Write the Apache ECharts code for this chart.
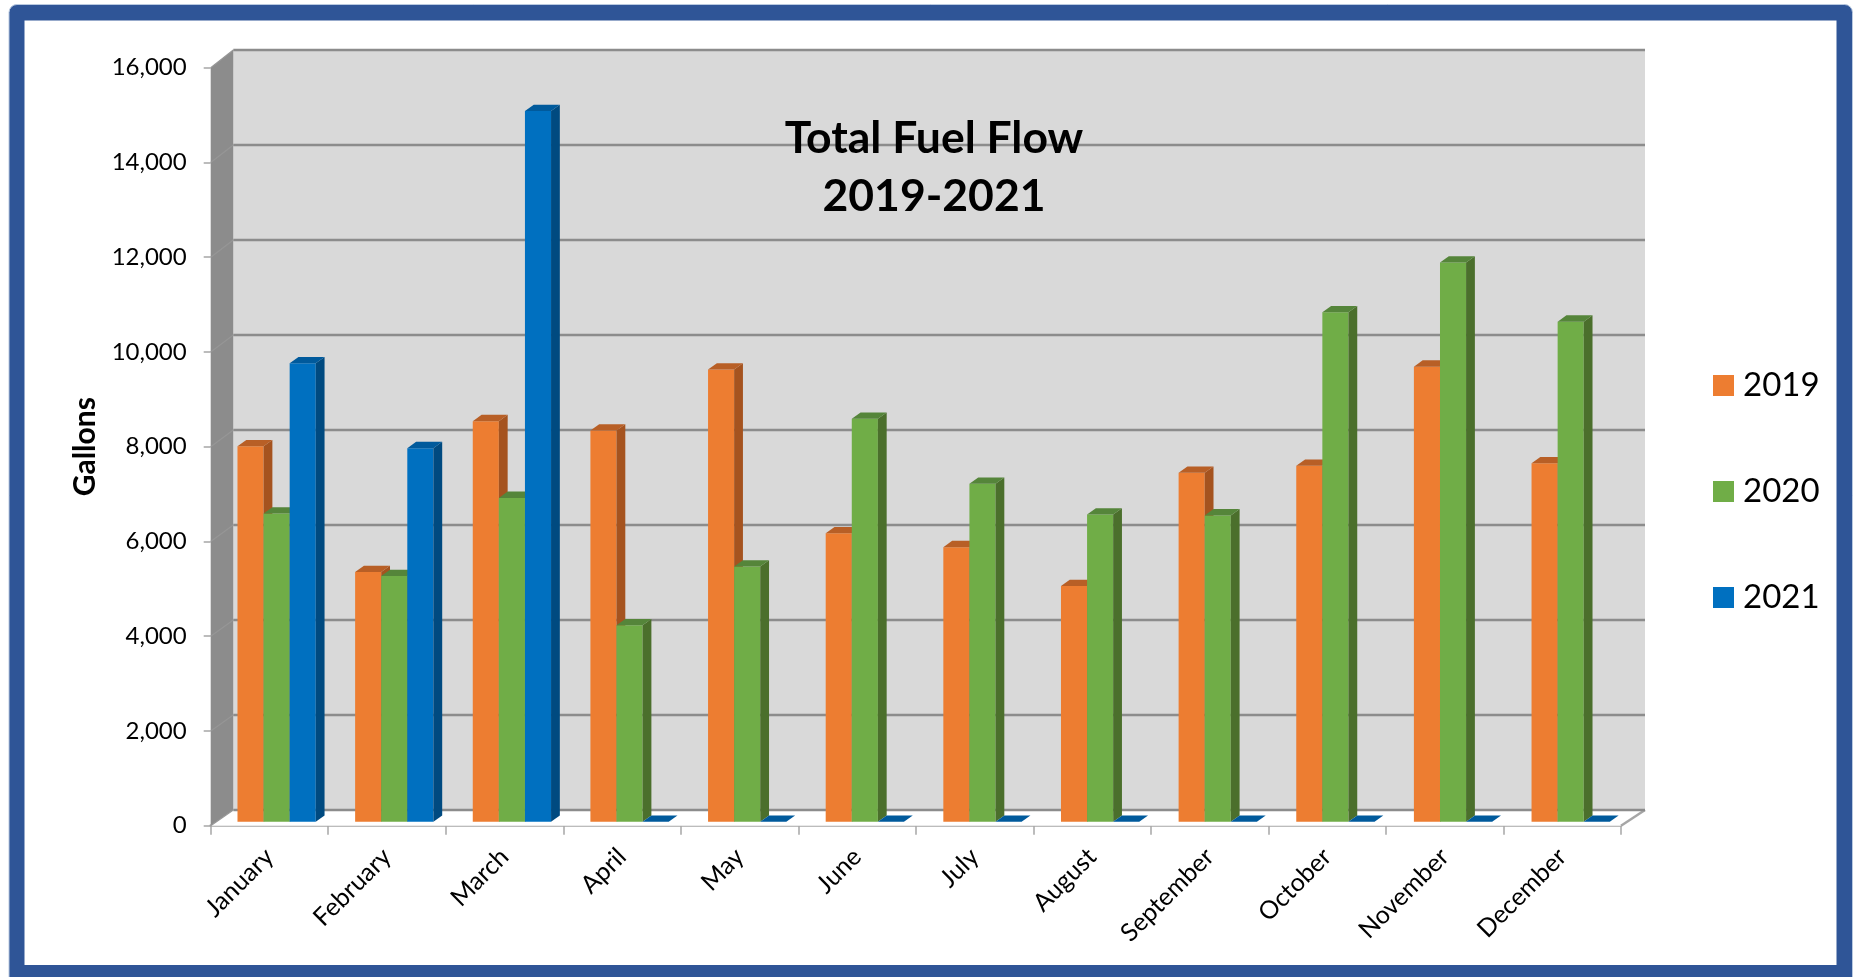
<!DOCTYPE html>
<html><head><meta charset="utf-8">
<style>html,body{margin:0;padding:0;background:#fff}#c{width:1854px;height:977px}</style>
<script src="https://cdn.jsdelivr.net/npm/echarts@6/dist/echarts.min.js"></script>
</head><body><div id="c"></div>
<script>
const months=['January','February','March','April','May','June','July','August','September','October','November','December'];
const v2019=[7925,5270,8455,8255,9545,6090,5795,4975,7365,7515,9605,7565];
const v2020=[6505,5185,6835,4145,5385,8505,7135,6485,6465,10755,11805,10555];
const v2021=[9675,7885,15000,0,0,0,0,0,0,0,0,0];
const yTicks=[0,2000,4000,6000,8000,10000,12000,14000,16000];
const GRID={left:210.7,top:67.7,right:233,bottom:151.3};
const DXL=22.6,DXR=24,DYT=17.7,DYB=15.7,BAR=0.222,BDX=8.8,BDY=6.3,SXL=7.1,SXR=8.5,SY=-4;
const FONT='Lato, "Open Sans", sans-serif';
const palette=[
 {f:'#ed7d31',t:'#b85f26',s:'#a5531f'},
 {f:'#70ad47',t:'#55853a',s:'#4b6f2c'},
 {f:'#0070c0',t:'#005a9c',s:'#004a80'}];
function poly(pts,fill){return {type:'polygon',shape:{points:pts},style:{fill:fill,stroke:null},silent:true};}
function backY(y,T,B){return y-(DYB+(DYT-DYB)*(B-y)/(B-T));}
function barSeries(name,data,idx){
 return {name,type:'custom',coordinateSystem:'cartesian2d',z:5+idx,
  itemStyle:{color:palette[idx].f},
  data:data.map((v,i)=>[i,v]),encode:{x:0,y:1},
  renderItem(params,api){
   const g=params.coordSys,band=api.size([1,0])[0],w=band*BAR;
   const p=api.coord([api.value(0),api.value(1)]),b=api.coord([api.value(0),0]);
   const sx=SXL+(SXR-SXL)*(p[0]-g.x)/g.width;
   const x=p[0]+(idx-1.5)*w+sx,r=x+w,top=p[1]+SY,bot=b[1]+SY;
   const c=palette[idx],kids=[];
   if(bot-top>0.5){
    kids.push(poly([[x,top],[r,top],[r,bot],[x,bot]],c.f));
    kids.push(poly([[r,top],[r+BDX,top-BDY],[r+BDX,bot-BDY],[r,bot]],c.s));
   }
   kids.push(poly([[x,top],[x+BDX,top-BDY],[r+BDX,top-BDY],[r,top]],c.t));
   return {type:'group',children:kids};
  }};
}
const wallSeries={type:'custom',name:'walls',coordinateSystem:'cartesian2d',z:1,silent:true,
 data:[[0,0]],encode:{x:0,y:1},
 renderItem(params,api){
  const g=params.coordSys,L=g.x,R=g.x+g.width,T=g.y,B=g.y+g.height;
  return {type:'group',children:[
   poly([[L+DXL,T-DYT],[R+DXR,T-DYT],[R+DXR,B-DYB],[L+DXL,B-DYB]],'#d9d9d9'),
   poly([[L,T],[L+DXL,T-DYT],[L+DXL,B-DYB],[L,B]],'#8c8c8c'),
   poly([[L,B],[L+DXL,B-DYB],[R+DXR,B-DYB],[R,B]],'#ffffff'),
   {type:'polyline',shape:{points:[[R+DXR,B-DYB],[R,B]]},style:{fill:null,stroke:'#a6a6a6',lineWidth:2.5}}
  ]};
 }};
const gridSeries={type:'custom',name:'gridlines',coordinateSystem:'cartesian2d',z:2,silent:true,
 data:yTicks.map(v=>[0,v]),encode:{x:0,y:1},
 renderItem(params,api){
  const g=params.coordSys,y=api.coord([0,api.value(1)])[1],L=g.x,R=g.x+g.width;
  const by=backY(y,g.y,g.y+g.height);
  return {type:'group',children:[
   {type:'line',shape:{x1:L+DXL,y1:by,x2:R+DXR,y2:by},style:{stroke:'#8c8c8c',lineWidth:2.4}},
   {type:'line',shape:{x1:L,y1:y,x2:L+DXL,y2:by},style:{stroke:'#969696',lineWidth:1.2}}
  ]};
 }};
const chart=echarts.init(document.getElementById('c'),null,{renderer:'canvas'});
chart.setOption({
 animation:false,
 backgroundColor:'#ffffff',
 graphic:[
  {type:'rect',z:0,silent:true,shape:{x:9,y:4.5,width:1843.5,height:990,r:8},
   style:{fill:'#2f5597',stroke:'#b9c9e0',lineWidth:1}},
  {type:'rect',z:0,silent:true,shape:{x:24.5,y:20.5,width:1812,height:944.5},
   style:{fill:'#ffffff'}}
 ],
 title:{text:'Total Fuel Flow\n2019-2021',left:929,top:105,textAlign:'center',
  textStyle:{fontFamily:FONT,fontWeight:'bold',fontSize:44.5,lineHeight:58,color:'#000'}},
 legend:{orient:'vertical',left:1708,top:360.5,icon:'rect',itemWidth:21,itemHeight:21,itemGap:66,
  data:['2019','2020','2021'],selectedMode:false,
  textStyle:{fontFamily:FONT,fontSize:33,lineHeight:40,color:'#000',padding:[0,0,0,4]}},
 grid:GRID,
 xAxis:{type:'category',data:months,boundaryGap:true,
  axisLine:{show:true,onZero:false,lineStyle:{color:'#a6a6a6',width:2.5}},
  axisTick:{show:true,length:9,lineStyle:{color:'#a6a6a6',width:1.5}},
  axisLabel:{interval:0,rotate:45,margin:27,fontFamily:FONT,fontSize:25,color:'#000'},
  splitLine:{show:false}},
 yAxis:{type:'value',min:0,max:16000,interval:2000,
  name:'Gallons',nameLocation:'middle',nameGap:110,nameRotate:90,
  nameTextStyle:{fontFamily:FONT,fontWeight:'bold',fontSize:30,color:'#000'},
  axisLine:{show:false},
  axisTick:{show:true,length:7,lineStyle:{color:'#a6a6a6',width:1.5}},
  axisLabel:{margin:24,fontFamily:FONT,fontSize:24,color:'#000',padding:[2,0,0,0],
   formatter:v=>v.toLocaleString('en-US')},
  splitLine:{show:false}},
 series:[wallSeries,gridSeries,barSeries('2019',v2019,0),barSeries('2020',v2020,1),barSeries('2021',v2021,2)]
});
</script></body></html>
